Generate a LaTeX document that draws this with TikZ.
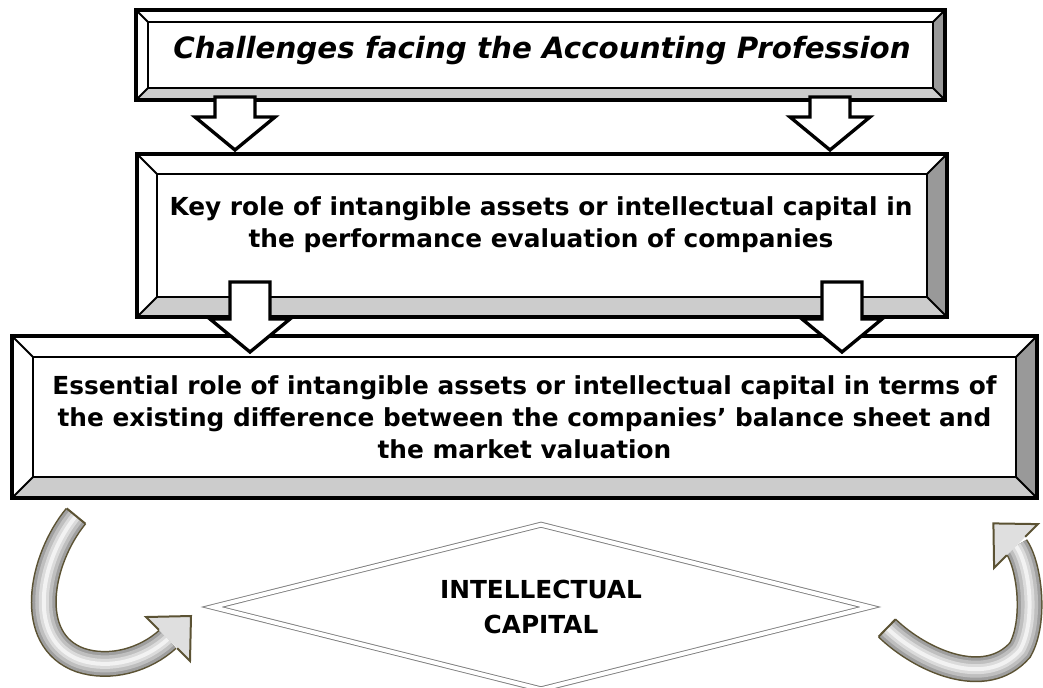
\documentclass[tikz,border=0pt]{standalone}
\usepackage{fontspec}
\setmainfont{DejaVu Sans}
\usepackage{xcolor}
\usetikzlibrary{shapes.geometric}
\usetikzlibrary{calc}
\usetikzlibrary{positioning}

\definecolor{bevelgray}{HTML}{999999}
\definecolor{bevellight}{HTML}{CCCCCC}
\definecolor{arrowrim}{HTML}{5B5233}

\tikzset{
  box/.style={rectangle, fill=white, inner sep=0pt, outer sep=0pt},
  boxtext/.style={align=center, font=\bfseries\fontsize{18.6}{24}\selectfont},
  blockarrow/.style={draw=black, line width=2.5pt, fill=white, line join=miter},
}

% bevelled frame round a box node
\newcommand\bevel[2]{%
  \fill[bevelgray] (#1.north east) -- (#1.south east) -- ([shift={(-#2,-#2)}]#1.south east) -- ([shift={(-#2,#2)}]#1.north east) -- cycle;
  \fill[bevellight] (#1.south west) -- (#1.south east) -- ([shift={(-#2,-#2)}]#1.south east) -- ([shift={(#2,-#2)}]#1.south west) -- cycle;
  \draw[line width=1.5pt] ([shift={(#2,#2)}]#1.north west) rectangle ([shift={(-#2,-#2)}]#1.south east);
  \draw[line width=1.5pt] (#1.north west) -- ([shift={(#2,#2)}]#1.north west);
  \draw[line width=1.5pt] (#1.north east) -- ([shift={(-#2,#2)}]#1.north east);
  \draw[line width=1.5pt] (#1.south east) -- ([shift={(-#2,-#2)}]#1.south east);
  \draw[line width=1.5pt] (#1.south west) -- ([shift={(#2,-#2)}]#1.south west);
  \draw[line width=2.5pt] (#1.north west) rectangle (#1.south east);
}

% hollow block arrow pointing down
\newcommand\blockdown[2]{%
  \draw[blockarrow] let \p1=(#1), \p2=(#2) in
    (\x1-15pt,\y1) -- (\x1+15pt,\y1) -- (\x1+15pt,\y2+24.75pt) -- (\x1+30pt,\y2+24.75pt)
    -- (\x1,\y2) -- (\x1-30pt,\y2+24.75pt) -- (\x1-15pt,\y2+24.75pt) -- cycle;
}

\newcommand\lefttube{(76,516) .. controls (40,560) and (25,640) .. (80,660) .. controls (110,670) and (145,660) .. (168,639)}
\newcommand\righttube{(887,628) .. controls (920,660) and (985,690) .. (1020,650) .. controls (1036,622) and (1030,566) .. (1016,546)}

\begin{document}
\begin{tikzpicture}[x=0.75pt,y=-0.75pt]
\useasboundingbox (0,0) rectangle (1043,687);

% boxes
\node[box, minimum width=606.75pt, minimum height=67.5pt] (b1) at (540.5,55) {};
\bevel{b1}{12}
\node[box, minimum width=607.5pt, minimum height=122.25pt] (b2) at (542,235.5) {};
\bevel{b2}{20}
\node[box, minimum width=768.75pt, minimum height=121.5pt] (b3) at (524.5,417) {};
\bevel{b3}{21}

\node[font=\bfseries\itshape\fontsize{22}{24}\selectfont] (t1) at (542,51) {Challenges facing the Accounting Profession};
\node[boxtext] (t2) at (541,225) {Key role of intangible assets or intellectual capital in\\the performance evaluation of companies};
\node[boxtext] (t3) at (524.5,417) {Essential role of intangible assets or intellectual capital in terms of\\the existing difference between the companies’ balance sheet and\\the market valuation};

% arrows between the boxes
\path (b1.south west) ++(99,-3) coordinate (a1s);
\path (b1.south west) ++(694,-3) coordinate (a2s);
\path (a1s |- b2.north) ++(0,-4) coordinate (a1e);
\path (a2s |- b2.north) ++(0,-4) coordinate (a2e);
\path (b2.south west) ++(113,-35) coordinate (a3s);
\path (b2.south west) ++(705,-35) coordinate (a4s);
\path (a3s |- b3.north) ++(0,16) coordinate (a3e);
\path (a4s |- b3.north) ++(0,16) coordinate (a4e);
\blockdown{a1s}{a1e}
\blockdown{a2s}{a2e}
\blockdown{a3s}{a3e}
\blockdown{a4s}{a4e}

% diamond
\node[diamond, aspect=4, draw=gray, double=white, double distance=3pt, line width=0.7pt,
  minimum width=492.75pt, minimum height=123.75pt, inner sep=0pt,
  align=center, font=\bfseries\fontsize{18.6}{26}\selectfont] (ic) at (541,607) {INTELLECTUAL\\CAPITAL};

% curved arrows
\foreach \w/\c in {19.5pt/arrowrim, 17.25pt/gray!75, 12.75pt/gray!50, 7.5pt/gray!28, 3pt/gray!10}
  \draw[line width=\w, \c] \lefttube;
\draw[arrowrim, line width=1.5pt] (66.7,508.4) -- (85.3,523.6);
\fill[gray!25] (146,617) -- (191,616) -- (190,661) -- cycle;
\draw[arrowrim, line width=1.5pt, line join=miter] (158.8,629.8) -- (146,617) -- (191,616) -- (190,661) -- (177.2,648.2);

\foreach \w/\c in {19.5pt/arrowrim, 17.25pt/gray!75, 12.75pt/gray!50, 7.5pt/gray!28, 3pt/gray!10}
  \draw[line width=\w, \c] \righttube;
\draw[arrowrim, line width=1.5pt] (878.6,636.6) -- (895.4,619.4);
\fill[gray!25] (1037.9,524.1) -- (993.4,523.4) -- (994.1,567.9) -- cycle;
\draw[arrowrim, line width=1.5pt, line join=miter] (1025.2,536.8) -- (1037.9,524.1) -- (993.4,523.4) -- (994.1,567.9) -- (1006.8,555.2);
\end{tikzpicture}
\end{document}
